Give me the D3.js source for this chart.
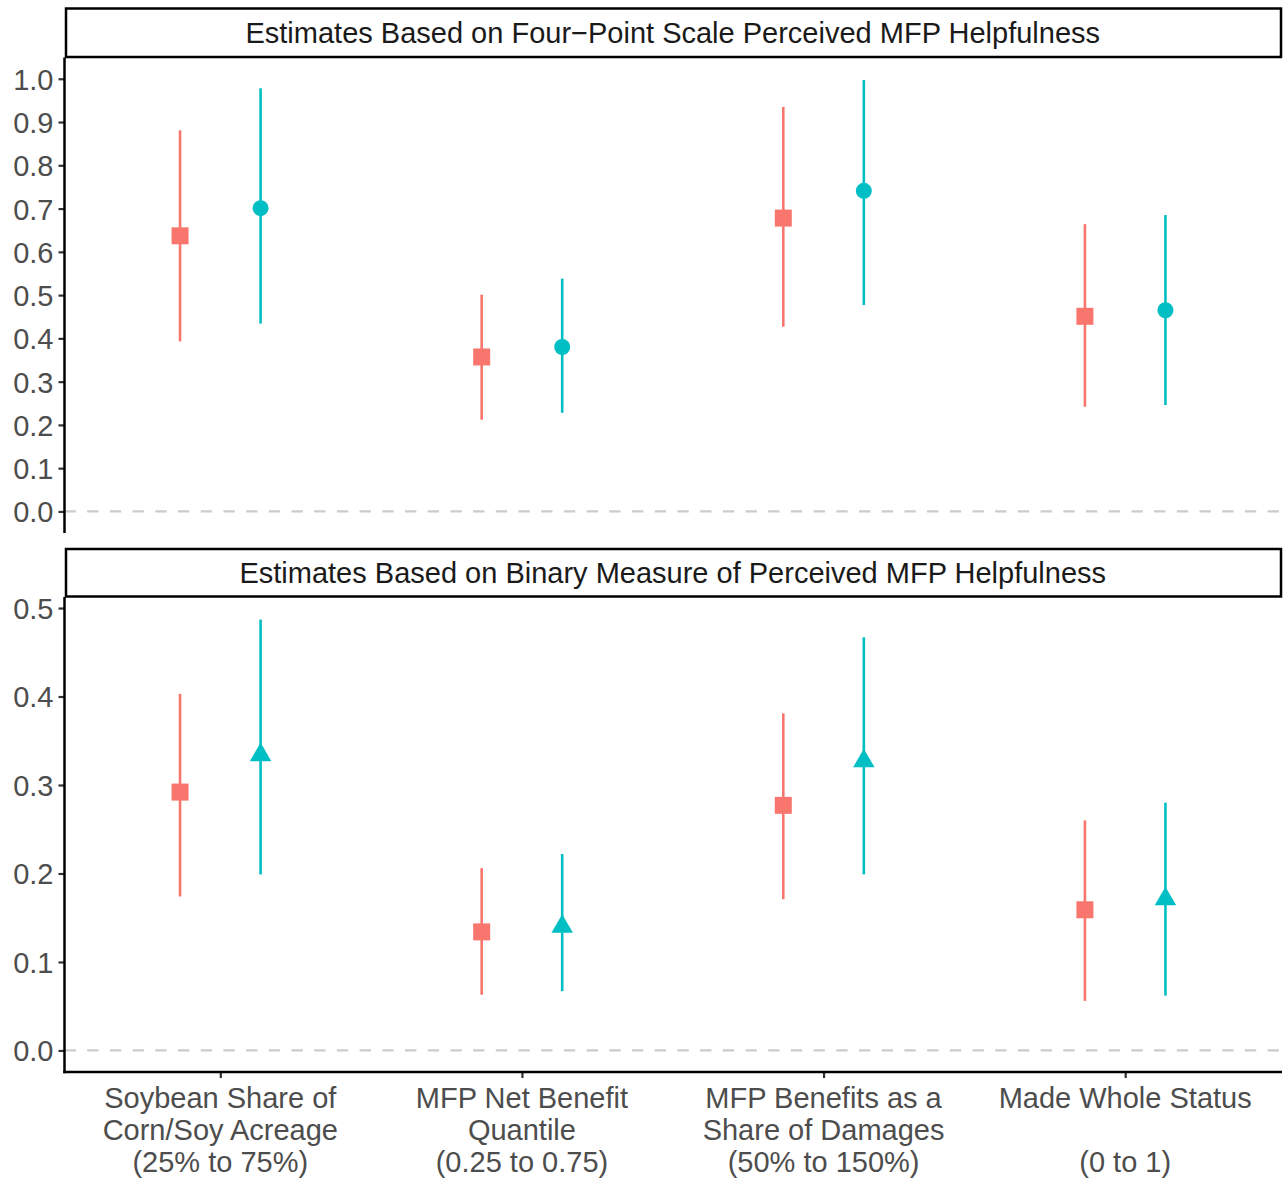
<!DOCTYPE html>
<html>
<head>
<meta charset="utf-8">
<script src="https://cdn.jsdelivr.net/npm/d3@7"></script>
<style>
  html, body { margin: 0; padding: 0; background: #ffffff; }
  svg { display: block; }
  text { font-family: "Liberation Sans", Arial, Helvetica, sans-serif; }
</style>
</head>
<body>
<div id="chart"></div>
<script>
// ---------- data ----------
const categoryLines = [
  ["Soybean Share of", "Corn/Soy Acreage", "(25% to 75%)"],
  ["MFP Net Benefit", "Quantile", "(0.25 to 0.75)"],
  ["MFP Benefits as a", "Share of Damages", "(50% to 150%)"],
  ["Made Whole Status", "", "(0 to 1)"]
];
const categories = ["soy", "netBenefit", "shareDamages", "madeWhole"];
const panelTitles = [
  "Estimates Based on Four\u2212Point Scale Perceived MFP Helpfulness",
  "Estimates Based on Binary Measure of Perceived MFP Helpfulness"
];
const seriesNames = ["A", "B"];

// Panel 1 (four-point scale)
const topEstA  = [0.637, 0.357, 0.678, 0.451];
const topLowA  = [0.393, 0.212, 0.427, 0.242];
const topHighA = [0.881, 0.501, 0.935, 0.664];
const topEstB  = [0.701, 0.380, 0.741, 0.465];
const topLowB  = [0.434, 0.228, 0.477, 0.246];
const topHighB = [0.978, 0.538, 0.997, 0.685];

// Panel 2 (binary measure)
const botEstA  = [0.292, 0.134, 0.277, 0.159];
const botLowA  = [0.174, 0.063, 0.171, 0.056];
const botHighA = [0.403, 0.206, 0.381, 0.260];
const botEstB  = [0.334, 0.140, 0.327, 0.171];
const botLowB  = [0.199, 0.067, 0.199, 0.062];
const botHighB = [0.487, 0.222, 0.467, 0.280];

const topTicks = [0, 0.1, 0.2, 0.3, 0.4, 0.5, 0.6, 0.7, 0.8, 0.9, 1.0];
const topTickLabels = ["0.0","0.1","0.2","0.3","0.4","0.5","0.6","0.7","0.8","0.9","1.0"];
const botTicks = [0, 0.1, 0.2, 0.3, 0.4, 0.5];
const botTickLabels = ["0.0","0.1","0.2","0.3","0.4","0.5"];

// ---------- layout ----------
const W = 1283, H = 1178;
const colors = { A: "#F8766D", B: "#00BFC4" };
const panelLeft = 64.5, panelRight = 1281;
const fontSize = 29;

const panels = [
  { title: panelTitles[0], stripTop: 8.5, stripBottom: 57, yTop: 58.5, yBottom: 533,
    ticks: topTicks, tickLabels: topTickLabels, shapeB: d3.symbolCircle, sizeB: 201,
    series: { A: { est: topEstA, low: topLowA, high: topHighA },
              B: { est: topEstB, low: topLowB, high: topHighB } }, xAxis: false },
  { title: panelTitles[1], stripTop: 549, stripBottom: 596.5, yTop: 598, yBottom: 1072,
    ticks: botTicks, tickLabels: botTickLabels, shapeB: d3.symbolTriangle, sizeB: 200,
    series: { A: { est: botEstA, low: botLowA, high: botHighA },
              B: { est: botEstB, low: botLowB, high: botHighB } }, xAxis: true }
];

const svg = d3.select("#chart").append("svg")
  .attr("width", W).attr("height", H)
  .attr("viewBox", `0 0 ${W} ${H}`);

const x = d3.scalePoint().domain(categories).range([panelLeft, panelRight]).padding(0.5166);
const dodge = x.step() * 0.1335;
const offsets = { A: -dodge, B: dodge };

panels.forEach(p => {
  // y domain: data range incl. zero line, expanded by 5%
  const allVals = [0];
  seriesNames.forEach(s => { allVals.push(...p.series[s].low, ...p.series[s].high); });
  const lo = d3.min(allVals), hi = d3.max(allVals);
  const pad = (hi - lo) * 0.05;
  const y = d3.scaleLinear().domain([lo - pad, hi + pad]).range([p.yBottom, p.yTop]);

  const g = svg.append("g");

  // zero reference line
  g.append("line")
    .attr("x1", panelLeft).attr("x2", panelRight)
    .attr("y1", y(0)).attr("y2", y(0))
    .attr("stroke", "#CCCCCC").attr("stroke-width", 2.3)
    .attr("stroke-dasharray", "11.35,11.35");

  // error bars and points
  seriesNames.forEach(s => {
    const ser = p.series[s];
    const rows = categories.map((c, i) => ({ c, est: ser.est[i], low: ser.low[i], high: ser.high[i] }));
    g.selectAll(null).data(rows).enter().append("line")
      .attr("x1", d => x(d.c) + offsets[s]).attr("x2", d => x(d.c) + offsets[s])
      .attr("y1", d => y(d.low)).attr("y2", d => y(d.high))
      .attr("stroke", colors[s]).attr("stroke-width", 2.6);
    const sym = s === "A" ? d3.symbol().type(d3.symbolSquare).size(289)
                          : d3.symbol().type(p.shapeB).size(p.sizeB);
    g.selectAll(null).data(rows).enter().append("path")
      .attr("d", sym)
      .attr("transform", d => `translate(${x(d.c) + offsets[s]},${y(d.est)})`)
      .attr("fill", colors[s]);
  });

  // y axis
  const yAxis = d3.axisLeft(y).tickValues(p.ticks)
    .tickFormat((d, i) => p.tickLabels[i]).tickSize(6).tickPadding(5);
  const ya = svg.append("g").attr("transform", `translate(${panelLeft},0)`).call(yAxis);
  ya.select(".domain").remove();
  ya.selectAll(".tick line").attr("stroke", "#333333").attr("stroke-width", 2.2);
  ya.selectAll(".tick text").attr("fill", "#4D4D4D").attr("font-size", fontSize)
    .attr("font-family", "'Liberation Sans', Arial, sans-serif").attr("dy", "0.36em");
  svg.append("line")
    .attr("x1", panelLeft).attr("x2", panelLeft)
    .attr("y1", p.yTop - 1).attr("y2", p.yBottom + (p.xAxis ? 1.25 : 0))
    .attr("stroke", "#000").attr("stroke-width", 2.5);

  // x axis
  if (p.xAxis) {
    const xAxis = d3.axisBottom(x).tickSize(6).tickFormat(() => "");
    const xa = svg.append("g").attr("transform", `translate(0,${p.yBottom})`).call(xAxis);
    xa.select(".domain").remove();
    xa.selectAll(".tick line").attr("stroke", "#333333").attr("stroke-width", 2.2);
    svg.append("line")
      .attr("x1", panelLeft - 1.25).attr("x2", panelRight + 1)
      .attr("y1", p.yBottom).attr("y2", p.yBottom)
      .attr("stroke", "#000").attr("stroke-width", 2.5);
    categories.forEach((c, i) => {
      const t = svg.append("text")
        .attr("x", x(c)).attr("y", p.yBottom + 35.5)
        .attr("text-anchor", "middle")
        .attr("fill", "#4D4D4D").attr("font-size", fontSize);
      categoryLines[i].forEach((ln, j) => {
        t.append("tspan").attr("x", x(c)).attr("y", p.yBottom + 35.5 + j * 32).text(ln);
      });
    });
  }

  // strip
  svg.append("rect")
    .attr("x", panelLeft + 1.5).attr("y", p.stripTop)
    .attr("width", panelRight - panelLeft - 1.5).attr("height", p.stripBottom - p.stripTop)
    .attr("fill", "#ffffff").attr("stroke", "#000").attr("stroke-width", 2.5);
  svg.append("text")
    .attr("x", (panelLeft + panelRight) / 2)
    .attr("y", (p.stripTop + p.stripBottom) / 2 + 10.5)
    .attr("text-anchor", "middle")
    .attr("fill", "#1A1A1A").attr("font-size", fontSize)
    .text(p.title);
});
</script>
</body>
</html>
